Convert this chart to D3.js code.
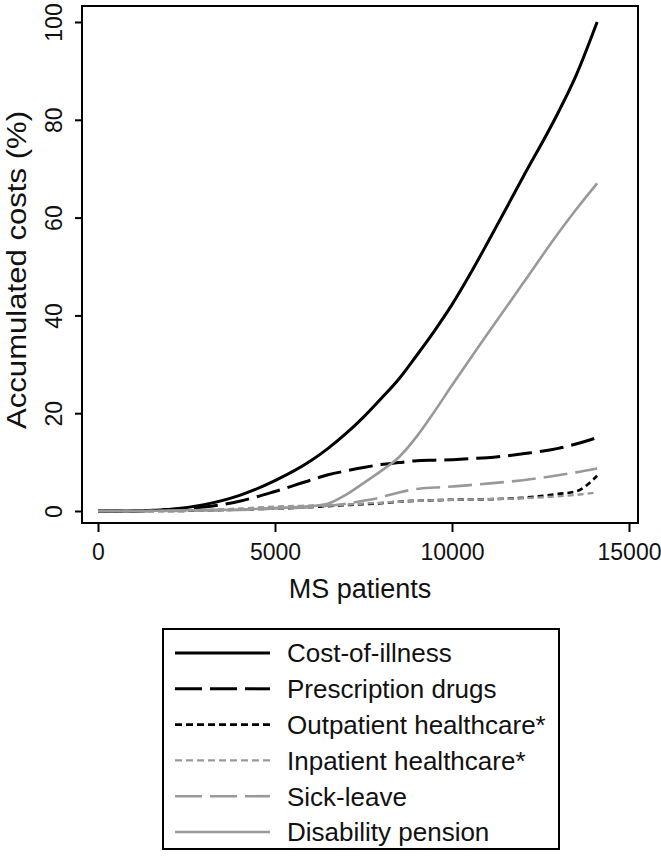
<!DOCTYPE html>
<html>
<head>
<meta charset="utf-8">
<script src="https://cdn.jsdelivr.net/npm/d3@7"></script>
<style>
  body { margin: 0; background: #fff; }
  svg { display: block; font-family: "Liberation Sans", Arial, sans-serif; }
</style>
</head>
<body>
<div id="chart"></div>
<script>
// patients (x) shared by every series
const patients = [0, 1000, 2000, 3000, 4000, 5000, 6000, 6500, 7000, 7500, 8000, 8500, 9000, 9500, 10000, 10500, 11000, 12000, 13000, 13500, 14100];

const costOfIllness = [0, 0, 0.3, 1.3, 3.2, 6.2, 10.2, 12.8, 15.8, 19.2, 23, 27, 31.8, 36.8, 42.2, 48.3, 54.8, 68.2, 81.5, 89, 100];
const prescriptionDrugs = [0, 0, 0.3, 0.8, 2, 4, 6.3, 7.4, 8.2, 8.9, 9.5, 9.9, 10.3, 10.4, 10.5, 10.7, 10.9, 11.7, 12.8, 13.7, 15];
const outpatient = [0, 0, 0, 0.1, 0.3, 0.5, 0.8, 1.0, 1.2, 1.4, 1.6, 1.9, 2.1, 2.2, 2.3, 2.35, 2.4, 2.7, 3.5, 4.0, 7.2];
const inpatient = [0, 0, 0, 0.2, 0.5, 0.9, 1.1, 1.2, 1.3, 1.5, 1.7, 1.9, 2.1, 2.2, 2.3, 2.35, 2.4, 2.6, 3.0, 3.3, 3.8];
const sickLeave = [0, 0, 0, 0.1, 0.2, 0.5, 0.8, 1.1, 1.5, 2.1, 2.8, 3.8, 4.5, 4.8, 5.0, 5.3, 5.6, 6.3, 7.3, 7.9, 8.7];
const disabilityPension = [0, 0, 0.1, 0.2, 0.3, 0.6, 1.0, 1.5, 3.3, 5.7, 8.2, 11, 15.2, 20.3, 25.7, 31, 36.2, 46.5, 56.8, 61.6, 67];

const seriesNames = ["Cost-of-illness", "Prescription drugs", "Outpatient healthcare*", "Inpatient healthcare*", "Sick-leave", "Disability pension"];
const seriesValues = [costOfIllness, prescriptionDrugs, outpatient, inpatient, sickLeave, disabilityPension];

const xTicks = [0, 5000, 10000, 15000];
const yTicks = [0, 20, 40, 60, 80, 100];

const BLACK = "#000";
const GRAY = "#999";
const LONG = "24,8", SHORT = "6,4";
const styles = [
  { color: BLACK, width: 3, dash: null },
  { color: BLACK, width: 3, dash: LONG },
  { color: BLACK, width: 2.6, dash: SHORT },
  { color: GRAY, width: 2.4, dash: SHORT },
  { color: GRAY, width: 2.6, dash: LONG },
  { color: GRAY, width: 2.6, dash: null },
];

const width = 661, height = 859;
const frame = { left: 82, right: 638, top: 6, bottom: 523 };

const svg = d3.select("#chart").append("svg")
  .attr("width", width).attr("height", height);

const x = d3.scaleLinear().domain([0, 15000]).range([98, 629]);
const y = d3.scaleLinear().domain([0, 100]).range([511, 22]);

const line = d3.line()
  .x((d) => x(d[0]))
  .y((d) => y(d[1]))
  .curve(d3.curveMonotoneX);

// plot region border
svg.append("rect")
  .attr("x", frame.left).attr("y", frame.top)
  .attr("width", frame.right - frame.left)
  .attr("height", frame.bottom - frame.top)
  .attr("fill", "none").attr("stroke", "#000").attr("stroke-width", 2);

// x axis
const xAxis = svg.append("g")
  .attr("transform", `translate(0,${frame.bottom})`)
  .call(d3.axisBottom(x).tickValues(xTicks).tickSize(9).tickPadding(12).tickFormat(d3.format("d")));
xAxis.select(".domain").remove();
xAxis.selectAll("line").attr("stroke", "#000").attr("stroke-width", 2);
xAxis.selectAll("text").attr("font-size", 23).attr("fill", "#111")
  .attr("font-family", "Liberation Sans, Arial, sans-serif");

// y axis, labels rotated like the original
const yAxis = svg.append("g")
  .attr("transform", `translate(${frame.left},0)`)
  .call(d3.axisLeft(y).tickValues(yTicks).tickSize(7).tickFormat(d3.format("d")));
yAxis.select(".domain").remove();
yAxis.selectAll("line").attr("stroke", "#000").attr("stroke-width", 2);
yAxis.selectAll("text")
  .attr("font-size", 23).attr("fill", "#111")
  .attr("font-family", "Liberation Sans, Arial, sans-serif")
  .attr("text-anchor", "middle")
  .attr("x", 0).attr("dy", 0)
  .attr("transform", "translate(-20,0) rotate(-90)");

svg.append("text")
  .attr("x", (frame.left + frame.right) / 2).attr("y", 598)
  .attr("text-anchor", "middle").attr("font-size", 27).attr("fill", "#111")
  .text("MS patients");

svg.append("text")
  .attr("transform", `translate(26,${270}) rotate(-90)`)
  .attr("text-anchor", "middle").attr("font-size", 27).attr("fill", "#111")
  .attr("textLength", 318).attr("lengthAdjust", "spacingAndGlyphs")
  .text("Accumulated costs (%)");

// series
seriesValues.forEach((vals, i) => {
  const pts = patients.map((p, j) => [p, vals[j]]);
  svg.append("path")
    .datum(pts)
    .attr("d", line)
    .attr("fill", "none")
    .attr("stroke", styles[i].color)
    .attr("stroke-width", styles[i].width)
    .attr("stroke-dasharray", styles[i].dash);
});

// legend
const legend = svg.append("g");
legend.append("rect")
  .attr("x", 163).attr("y", 629).attr("width", 396).attr("height", 220)
  .attr("fill", "none").attr("stroke", "#000").attr("stroke-width", 2);

const rowY = d3.scalePoint().domain(seriesNames).range([653, 832]);
seriesNames.forEach((name, i) => {
  const yy = rowY(name);
  const dash = styles[i].dash === LONG ? "27,8" : styles[i].dash === SHORT ? "7,4" : null;
  legend.append("line")
    .attr("x1", 175).attr("x2", 270).attr("y1", yy).attr("y2", yy)
    .attr("stroke", styles[i].color)
    .attr("stroke-width", styles[i].width)
    .attr("stroke-dasharray", dash);
  legend.append("text")
    .attr("x", 287).attr("y", yy).attr("dy", "0.36em")
    .attr("font-size", 26).attr("fill", "#111")
    .text(name);
});
</script>
</body>
</html>
